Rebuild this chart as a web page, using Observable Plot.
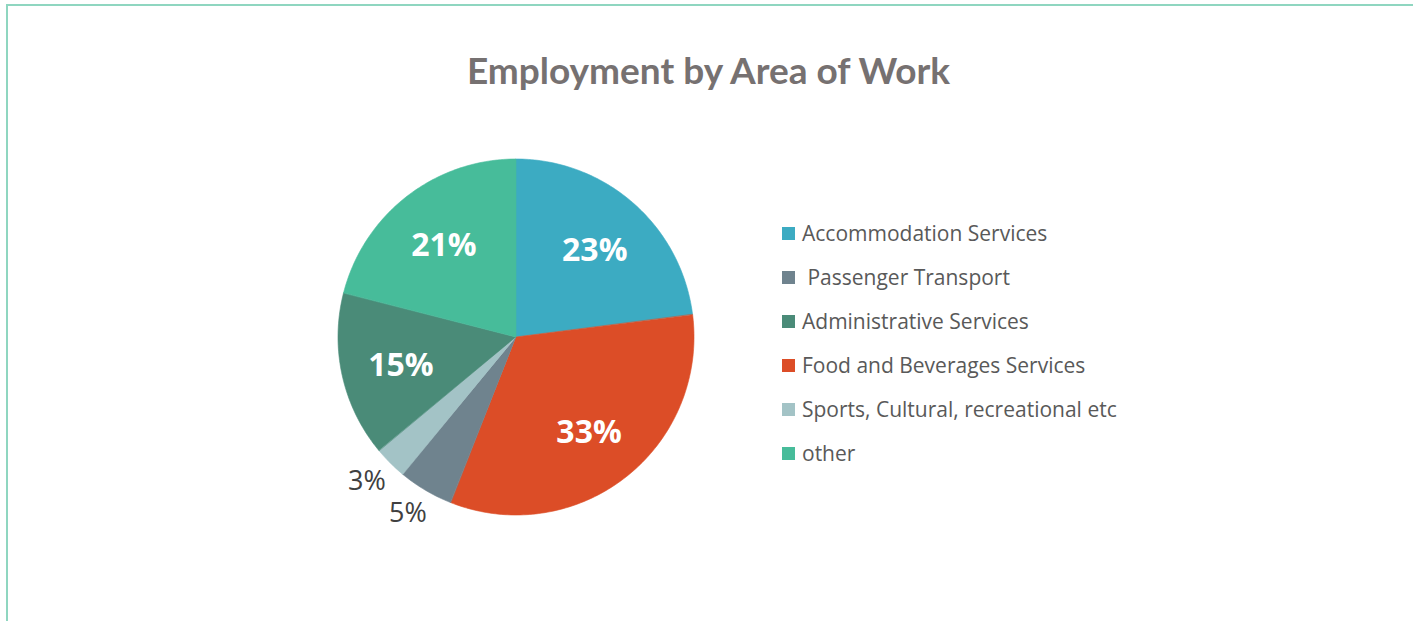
<!DOCTYPE html>
<html><head><meta charset="utf-8">
<script src="https://cdn.jsdelivr.net/npm/d3@7"></script>
<script src="https://cdn.jsdelivr.net/npm/@observablehq/plot@0.6"></script>
<style>
body{margin:0;background:#fff;}
#wrap{position:relative;width:1413px;height:621px;overflow:hidden;font-family:"Open Sans",sans-serif;background:#fff;}
#frame{position:absolute;left:6px;top:4px;right:-10px;bottom:-10px;border-left:2px solid #8fd6c0;border-top:2px solid #8fd6c0;}
#title{position:absolute;left:0;width:1413px;top:51px;text-align:center;font:700 37px Lato;line-height:37px;color:#767171;margin:0;padding-left:2px;}
#chart{position:absolute;left:306px;top:127px;}
#legend{position:absolute;left:782px;top:211px;display:flex;flex-direction:column;}
.row{height:44px;display:flex;align-items:center;font-size:21px;color:#595959;white-space:pre;}
.sw{width:13px;height:13px;margin-right:7px;flex:none;}
</style></head>
<body><div id="wrap"><div id="frame"></div><div id="title"></div><div id="chart"></div><div id="legend"></div></div>
<script>
const title = "Employment by Area of Work";
// slices in clockwise order from 12 o'clock
const categories = ["Accommodation Services", "Food and Beverages Services", " Passenger Transport", "Sports, Cultural, recreational etc", "Administrative Services", "other"];
const values = [23, 33, 5, 3, 15, 21];
const colors = ["#3cabc2", "#dc4d27", "#6f838e", "#a3c3c6", "#4a8b78", "#47bc9a"];
const legendOrder = ["Accommodation Services", " Passenger Transport", "Administrative Services", "Food and Beverages Services", "Sports, Cultural, recreational etc", "other"];

document.getElementById("title").textContent = title;

const total = d3.sum(values);
const slices = [];
let acc = 0;
categories.forEach((c, i) => {
  const a0 = acc / total * 2 * Math.PI;
  acc += values[i];
  const a1 = acc / total * 2 * Math.PI;
  slices.push({category: c, value: values[i], a0, a1, mid: (a0 + a1) / 2});
});

// arc outline samples for each slice (geometry of the wedge)
const arcPts = [];
for (const s of slices) {
  const n = Math.max(2, Math.ceil((s.a1 - s.a0) / (Math.PI / 180)));
  for (let k = 0; k <= n; k++) {
    const a = s.a0 + (s.a1 - s.a0) * k / n;
    arcPts.push({category: s.category, x: Math.sin(a), y: Math.cos(a)});
  }
}

const inner = slices.filter(s => s.value >= 10);
const outer = slices.filter(s => s.value < 10);

const plot = Plot.plot({
  width: 420, height: 420,
  margin: 32,
  x: {domain: [-1, 1], axis: null},
  y: {domain: [-1, 1], axis: null},
  color: {domain: categories, range: colors},
  style: {background: "transparent", overflow: "visible"},
  marks: [
    Plot.area(arcPts, {x1: d => 0, y1: d => 0, x2: "x", y2: "y", z: "category", fill: "category", stroke: "category", strokeWidth: 0.6}),
    Plot.text(inner, {x: d => 0.665 * Math.sin(d.mid), y: d => 0.665 * Math.cos(d.mid), dy: 2, text: d => d.value + "%", fill: "white", fontSize: 32, fontWeight: "bold", fontFamily: "Open Sans"}),
    Plot.text(outer, {x: d => 1.165 * Math.sin(d.mid), y: d => 1.165 * Math.cos(d.mid), dx: -3, dy: -3, text: d => d.value + "%", fill: "#404040", fontSize: 27, fontFamily: "Open Sans"})
  ]
});
document.getElementById("chart").appendChild(plot);

const colorOf = Object.fromEntries(categories.map((c, i) => [c, colors[i]]));
const leg = document.getElementById("legend");
for (const c of legendOrder) {
  const row = document.createElement("div");
  row.className = "row";
  const sw = document.createElement("span");
  sw.className = "sw";
  sw.style.background = colorOf[c];
  const t = document.createElement("span");
  t.textContent = c;
  row.appendChild(sw);
  row.appendChild(t);
  leg.appendChild(row);
}
</script>
</body></html>
